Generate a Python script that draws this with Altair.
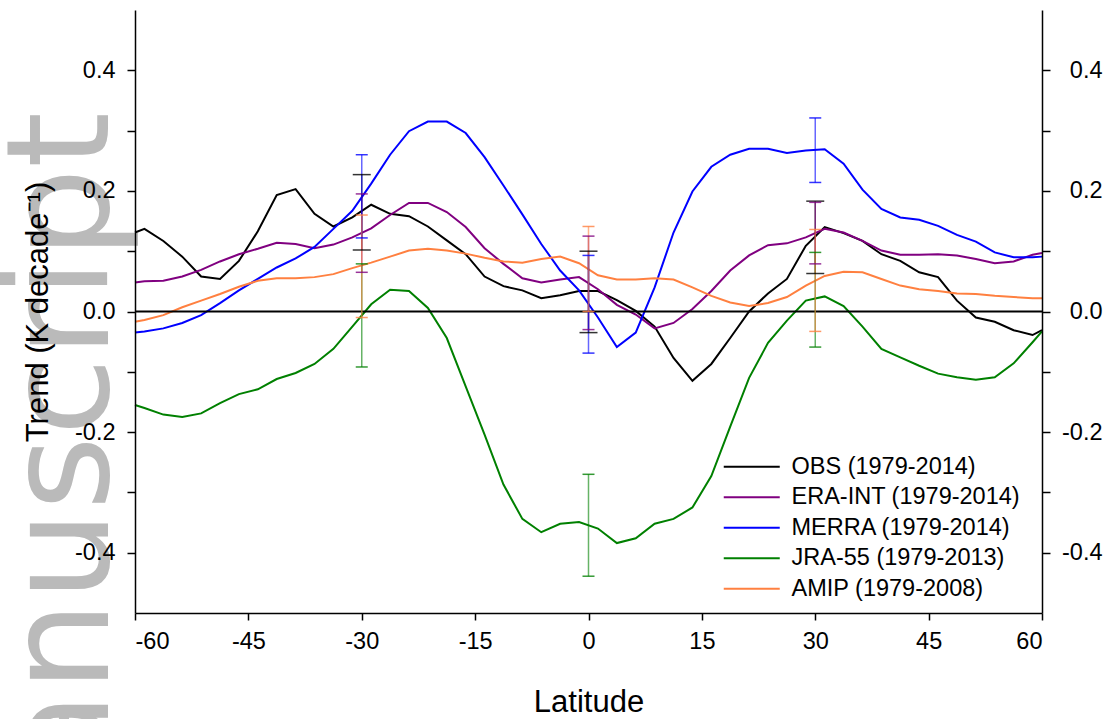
import altair as alt
import pandas as pd

# ---------------- data ----------------
lat = [-60, -58.75, -56.25, -53.75, -51.25, -48.75, -46.25, -43.75, -41.25, -38.75,
       -36.25, -33.75, -31.25, -28.75, -26.25, -23.75, -21.25, -18.75, -16.25, -13.75,
       -11.25, -8.75, -6.25, -3.75, -1.25, 1.25, 3.75, 6.25, 8.75, 11.25,
       13.75, 16.25, 18.75, 21.25, 23.75, 26.25, 28.75, 31.25, 33.75, 36.25,
       38.75, 41.25, 43.75, 46.25, 48.75, 51.25, 53.75, 56.25, 58.75, 60]

obs = [0.131, 0.137, 0.117, 0.091, 0.058, 0.054, 0.084, 0.133, 0.193, 0.203,
       0.162, 0.141, 0.156, 0.177, 0.162, 0.158, 0.141, 0.118, 0.095, 0.058,
       0.042, 0.035, 0.022, 0.027, 0.034, 0.034, 0.019, 0.001, -0.025, -0.077,
       -0.115, -0.087, -0.044, 0.000, 0.030, 0.054, 0.109, 0.140, 0.130, 0.117,
       0.095, 0.084, 0.065, 0.057, 0.018, -0.010, -0.017, -0.031, -0.039, -0.031]

era = [0.048, 0.050, 0.051, 0.058, 0.069, 0.083, 0.095, 0.104, 0.114, 0.112,
       0.105, 0.111, 0.123, 0.138, 0.160, 0.180, 0.180, 0.165, 0.140, 0.105,
       0.079, 0.055, 0.048, 0.053, 0.057, 0.037, 0.011, -0.005, -0.028, -0.019,
       0.004, 0.034, 0.068, 0.093, 0.110, 0.113, 0.123, 0.137, 0.131, 0.117,
       0.101, 0.094, 0.094, 0.095, 0.093, 0.087, 0.080, 0.083, 0.094, 0.097]

merra = [-0.035, -0.033, -0.028, -0.019, -0.006, 0.014, 0.035, 0.054, 0.073, 0.088,
         0.107, 0.137, 0.167, 0.212, 0.260, 0.299, 0.315, 0.315, 0.296, 0.256,
         0.209, 0.161, 0.112, 0.068, 0.035, -0.010, -0.059, -0.035, 0.040, 0.131,
         0.199, 0.240, 0.260, 0.270, 0.270, 0.263, 0.267, 0.269, 0.245, 0.202,
         0.170, 0.156, 0.152, 0.142, 0.127, 0.116, 0.098, 0.090, 0.090, 0.091]

jra = [-0.155, -0.160, -0.171, -0.175, -0.169, -0.152, -0.137, -0.129, -0.112, -0.102,
       -0.087, -0.062, -0.025, 0.012, 0.036, 0.034, 0.006, -0.044, -0.124, -0.204,
       -0.287, -0.344, -0.366, -0.352, -0.349, -0.360, -0.384, -0.376, -0.352, -0.344,
       -0.325, -0.273, -0.191, -0.110, -0.052, -0.015, 0.018, 0.025, 0.009, -0.025,
       -0.062, -0.076, -0.090, -0.103, -0.109, -0.113, -0.109, -0.086, -0.051, -0.033]

amip = [-0.017, -0.014, -0.006, 0.007, 0.018, 0.029, 0.041, 0.051, 0.055, 0.055,
        0.057, 0.062, 0.072, 0.081, 0.091, 0.101, 0.104, 0.101, 0.096, 0.089,
        0.083, 0.081, 0.087, 0.091, 0.080, 0.060, 0.053, 0.053, 0.055, 0.053,
        0.040, 0.026, 0.015, 0.009, 0.014, 0.024, 0.043, 0.059, 0.066, 0.065,
        0.054, 0.043, 0.037, 0.034, 0.030, 0.029, 0.026, 0.024, 0.022, 0.022]

series_names = ["OBS (1979-2014)", "ERA-INT (1979-2014)", "MERRA (1979-2014)",
                "JRA-55 (1979-2013)", "AMIP (1979-2008)"]
series_colors = ["#000000", "#800080", "#0000ff", "#008000", "#ff8040"]

# error bars at -30, 0, 30
err_lat = [-30, 0, 30]
err_lo = {
    "OBS (1979-2014)": [0.102, -0.035, 0.063],
    "ERA-INT (1979-2014)": [0.065, -0.030, 0.079],
    "MERRA (1979-2014)": [0.122, -0.069, 0.214],
    "JRA-55 (1979-2013)": [-0.092, -0.439, -0.059],
    "AMIP (1979-2008)": [-0.010, 0.000, -0.033],
}
err_hi = {
    "OBS (1979-2014)": [0.227, 0.100, 0.183],
    "ERA-INT (1979-2014)": [0.195, 0.125, 0.181],
    "MERRA (1979-2014)": [0.260, 0.093, 0.321],
    "JRA-55 (1979-2013)": [0.079, -0.270, 0.098],
    "AMIP (1979-2008)": [0.160, 0.141, 0.136],
}

x_ticks = [-60, -45, -30, -15, 0, 15, 30, 45, 60]
y_ticks = [-0.4, -0.3, -0.2, -0.1, 0.0, 0.1, 0.2, 0.3, 0.4]
watermark = ["manuscript"]

# ---------------- tables ----------------
vals = [obs, era, merra, jra, amip]
rows = []
for name, v in zip(series_names, vals):
    for la, val in zip(lat, v):
        rows.append({"series": name, "lat": la, "value": val})
df = pd.DataFrame(rows)

erows = []
for name, col in zip(series_names, series_colors):
    for i, la in enumerate(err_lat):
        erows.append({"series": name, "lat": la, "lo": err_lo[name][i],
                      "hi": err_hi[name][i], "col": col,
                      "cap": 18 if name.startswith("OBS") else 12})
edf = pd.DataFrame(erows)

FONT = "Liberation Sans"
LFS = 23.5
xscale = alt.Scale(domain=[-60, 60], nice=False, zero=False)
yscale = alt.Scale(domain=[-0.5, 0.5], nice=False, zero=False)

ylabel_expr = ("abs(datum.value) > 0.45 || round(abs(datum.value) * 10) % 2 == 1 ? '' : "
               "(datum.value < -0.001 ? '-' : '') + format(abs(datum.value), '.1f')")

axis_common = dict(domainColor="black", domainWidth=1.5, tickColor="black",
                   tickWidth=1.5, labelFont=FONT, labelFontSize=LFS,
                   labelColor="black", grid=False, zindex=1)

# watermark
wm = alt.Chart(pd.DataFrame({"t": watermark})).mark_text(
    angle=270, align="right", baseline="alphabetic", fontSize=143,
    font="DejaVu Sans", color="#bababa"
).encode(x=alt.value(-27), y=alt.value(102), text="t:N")

lines = alt.Chart(df).mark_line(strokeWidth=2).encode(
    x=alt.X("lat:Q", scale=xscale,
            axis=alt.Axis(values=x_ticks, title="Latitude", tickSize=7,
                          labelExpr="datum.value < 0 ? '-' + format(abs(datum.value), 'd') : format(datum.value, 'd')",
                          labelPadding=9, titleFont=FONT, titleFontSize=31,
                          titleFontWeight="normal", titleColor="black",
                          titlePadding=35, **axis_common)),
    y=alt.Y("value:Q", scale=yscale,
            axis=alt.Axis(orient="left", values=y_ticks, labelExpr=ylabel_expr,
                          title="Trend (K decade\u207b\u00b9)", titleFont=FONT,
                          titleFontSize=31, titleFontWeight="normal",
                          titleColor="black", titlePadding=20, labelPadding=12,
                          tickSize=8, **axis_common)),
    color=alt.Color("series:N",
                    scale=alt.Scale(domain=series_names, range=series_colors),
                    legend=alt.Legend(orient="none", legendX=605, legendY=445,
                                      title=None, symbolType="M-4,0H4",
                                      symbolSize=196, symbolStrokeWidth=2,
                                      labelFont=FONT, labelFontSize=LFS,
                                      labelColor="black", labelOffset=28,
                                      labelLimit=400, rowPadding=5.5, padding=0)),
    detail="series:N",
)

zero = alt.Chart(pd.DataFrame({"z": [0.0]})).mark_rule(color="black", strokeWidth=2).encode(
    y=alt.Y("z:Q", scale=yscale,
            axis=alt.Axis(orient="right", values=y_ticks, labelExpr=ylabel_expr,
                          title=None, labelAlign="right", labelPadding=52,
                          tickSize=8, **axis_common)),
)

bars = alt.Chart(edf).mark_rule(strokeWidth=1.5, opacity=0.6).encode(
    x=alt.X("lat:Q", scale=xscale),
    y=alt.Y("lo:Q", scale=yscale, axis=None),
    y2="hi:Q",
    color=alt.Color("col:N", scale=None),
)
caps_lo = alt.Chart(edf).mark_tick(orient="horizontal", thickness=1.5, opacity=0.8).encode(
    x=alt.X("lat:Q", scale=xscale),
    y=alt.Y("lo:Q", scale=yscale, axis=None),
    color=alt.Color("col:N", scale=None),
    size=alt.Size("cap:Q", scale=None),
)
caps_hi = alt.Chart(edf).mark_tick(orient="horizontal", thickness=1.5, opacity=0.8).encode(
    x=alt.X("lat:Q", scale=xscale),
    y=alt.Y("hi:Q", scale=yscale, axis=None),
    color=alt.Color("col:N", scale=None),
    size=alt.Size("cap:Q", scale=None),
)

chart = alt.layer(wm, lines, zero, bars, caps_lo, caps_hi).resolve_axis(
    y="independent"
).resolve_scale(color="independent").properties(
    width=907, height=603,
    background="white",
    autosize=alt.AutoSizeParams(type="none"),
    padding={"left": 135, "top": 10, "right": 69, "bottom": 106},
).configure_view(stroke="transparent", strokeWidth=0)

chart.save("out.html", embed_options={"renderer": "svg", "actions": False})
